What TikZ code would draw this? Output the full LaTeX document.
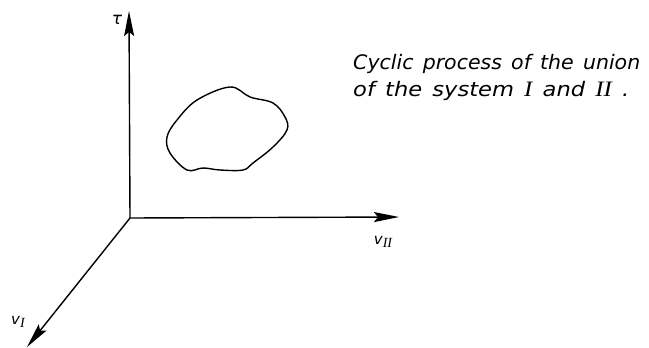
\documentclass[tikz,border=0pt]{standalone}
\usepackage{fontspec}
\setsansfont{DejaVu Sans}
\newfontfamily\romfont{Liberation Serif}
\usetikzlibrary{arrows.meta}
\newcommand{\captline}[2]{\resizebox{#1}{\height}{\spaceskip=9pt #2}}
\begin{document}
\begin{tikzpicture}[x=1pt,y=-1pt,
  axis/.style={line width=1.4pt,-{Stealth[length=25pt,width=10pt,inset=4pt]}},
  lbl/.style={font=\sffamily\itshape\fontsize{15}{15}\selectfont,inner sep=0pt},
  capt/.style={font=\sffamily\itshape\fontsize{20}{27}\selectfont,inner sep=0pt,align=left,anchor=north west}]
\useasboundingbox (0,0) rectangle (649,348);
\coordinate (O) at (130,218);
\coordinate (T) at (129,11);
\coordinate (V2) at (399,217);
\coordinate (V1) at (27,347);
\draw[axis] (O) -- (T);
\draw[axis] (O) -- (V2);
\draw[axis] (O) -- (V1);
\node[lbl,font=\sffamily\itshape\fontsize{17}{17}\selectfont] (tau) at (117,20) {τ};
\node[lbl] (v2) at (383,242) {v\raisebox{-3pt}{\romfont\itshape\fontsize{14}{14}\selectfont II}};
\node[lbl] (v1) at (18,322) {v\raisebox{-3pt}{\romfont\itshape\fontsize{14}{14}\selectfont I}};
\draw[line width=1.4pt] plot[smooth cycle,tension=0.6] coordinates {
  (230,87) (250,97) (273,103) (285,117) (287,130) (273,147) (253,163)
  (243,170) (220,170) (203,168) (187,170) (170,153) (167,137) (177,120) (197,100)};
\node[capt] (cap) at (353,54) {\captline{287pt}{Cyclic process of the union}\\\captline{276pt}{of the system {\romfont\fontsize{22}{27}\selectfont I} and {\romfont\fontsize{22}{27}\selectfont II} .}};
\end{tikzpicture}
\end{document}
